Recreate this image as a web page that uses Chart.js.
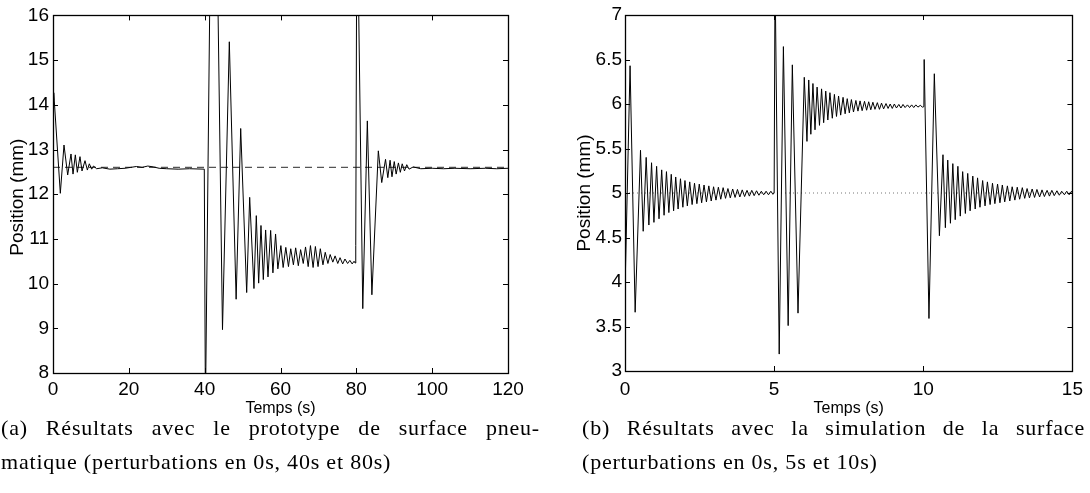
<!DOCTYPE html>
<html>
<head>
<meta charset="utf-8">
<script src="https://cdn.jsdelivr.net/npm/chart.js@4.4.1/dist/chart.umd.min.js"></script>
<style>
  html, body { margin: 0; padding: 0; background: #fff; }
  body { width: 1090px; height: 493px; position: relative; overflow: hidden; }
  .panel { position: absolute; top: 0; }
  .cap { position: absolute; font-family: "Liberation Serif", serif; font-size: 22px; letter-spacing: 0.8px; color: #000; white-space: nowrap; line-height: 34px; }
  .just { text-align: justify; text-align-last: justify; white-space: normal; }
</style>
</head>
<body>
<div class="panel" style="left:0"><canvas id="exp-canvas" width="545" height="420"></canvas></div>
<div class="panel" style="left:560px"><canvas id="sim-canvas" width="530" height="420"></canvas></div>

<div class="cap just" style="left:1px; top:411px; width:539px">(a) Résultats avec le prototype de surface pneu-</div>
<div class="cap" style="left:1px; top:445px">matique (perturbations en 0s, 40s et 80s)</div>
<div class="cap just" style="left:582px; top:411px; width:503px">(b) Résultats avec la simulation de la surface</div>
<div class="cap" style="left:582px; top:445px">(perturbations en 0s, 5s et 10s)</div>

<script>
// (a) prototype: time (s) and position (mm)
let expTime = [0, 0.2, 1.93, 2.9, 3.87, 4.75, 5.28, 5.89, 6.42, 7.12, 7.65, 8.44, 9.06, 9.58, 10.2, 10.7,
    11.5, 13, 15, 17, 19, 20.5, 22, 23.5, 25, 26.5, 28, 30, 33, 36, 39.9,
    40.2, 41.5, 43.3, 44.7, 46.5, 48.3, 49.5, 51.08, 51.87, 53.0, 53.62, 54.24, 54.85, 55.47, 56.08, 56.7,
    57.4, 58.0, 58.7, 59.3, 60.1, 60.7, 61.4, 62.1,
    62.7, 63.4, 64.0, 64.7, 65.3, 66.0, 66.6, 67.3, 67.9, 68.6, 69.2, 69.9, 70.5, 71.2, 71.8, 72.5,
    73.1, 73.8, 74.4, 75.1, 75.7, 76.4, 77.0, 77.7, 78.3, 78.9, 79.4, 79.7,
    79.85, 80.1, 80.4, 81.7, 82.9, 84.1, 85.8, 86.7, 87.7, 88.3, 88.9, 89.4, 90.0, 90.5, 91.1, 91.6,
    92.1, 92.7, 93.3, 93.9, 95, 97, 100, 103, 106, 110, 114, 117, 120];
let expPos = [14.1, 14.27, 12.02, 13.1, 12.43, 12.9, 12.45, 12.88, 12.49, 12.84, 12.52, 12.75, 12.54, 12.68, 12.56, 12.63,
    12.57, 12.59, 12.56, 12.57, 12.58, 12.6, 12.62, 12.6, 12.63, 12.61, 12.58, 12.57, 12.56, 12.57, 12.56,
    7.2, 17.5, 17.5, 8.97, 15.41, 9.65, 13.47, 9.80, 11.93, 9.89, 11.52, 10.01, 11.30, 10.09, 11.20, 10.15,
    11.19, 10.24, 11.11, 10.33, 10.85, 10.36, 10.81, 10.38,
    10.78, 10.42, 10.80, 10.40, 10.76, 10.45, 10.82, 10.38, 10.85, 10.36, 10.83, 10.38, 10.78, 10.42, 10.70, 10.45,
    10.65, 10.48, 10.62, 10.45, 10.58, 10.44, 10.55, 10.45, 10.52, 10.44, 10.50, 10.46,
    10.85, 17.5, 17.5, 9.44, 13.64, 9.75, 12.97, 12.26, 12.78, 12.37, 12.76, 12.39, 12.73, 12.45, 12.70, 12.49,
    12.68, 12.52, 12.66, 12.56, 12.61, 12.57, 12.58, 12.57, 12.58, 12.57, 12.58, 12.57, 12.58];
let expRef = 12.6;
let expTicksX = [0, 20, 40, 60, 80, 100, 120];

// (b) simulation: time (s) and position (mm)
let simTime = [0, 0.17, 0.34,
    0.52, 0.61, 0.71, 0.80, 0.89, 0.97, 1.06, 1.14, 1.23, 1.31, 1.39, 1.47, 1.55, 1.63, 1.70, 1.78,
    1.86, 1.94, 2.01, 2.09, 2.17, 2.25, 2.33, 2.41, 2.49, 2.57, 2.65, 2.73, 2.81, 2.89, 2.97, 3.05,
    3.13, 3.21, 3.29, 3.37, 3.45, 3.53, 3.61, 3.69, 3.77, 3.85, 3.93, 4.01, 4.09, 4.17, 4.25, 4.33,
    4.41, 4.49, 4.57, 4.65, 4.73, 4.81, 4.89, 4.96, 5.0,
    5.03, 5.17, 5.31, 5.47, 5.61, 5.80, 6.01, 6.10,
    6.16, 6.23, 6.30, 6.37, 6.44, 6.52, 6.59, 6.66, 6.73, 6.80, 6.87, 6.95, 7.02, 7.09, 7.16, 7.23,
    7.31, 7.38, 7.45, 7.52, 7.59, 7.66, 7.74, 7.81, 7.88, 7.95, 8.03, 8.10, 8.17, 8.24, 8.31, 8.38,
    8.46, 8.53, 8.60, 8.67, 8.75, 8.82, 8.89, 8.96, 9.03, 9.10, 9.18, 9.25, 9.32, 9.39, 9.47, 9.54,
    9.61, 9.68, 9.75, 9.82, 9.90, 9.97, 10.02,
    10.03, 10.19, 10.37, 10.54, 10.66, 10.74, 10.82, 10.91, 10.99, 11.07, 11.16, 11.24, 11.32, 11.41,
    11.49, 11.57, 11.66, 11.74, 11.82, 11.90, 11.99, 12.07, 12.15, 12.24, 12.32, 12.40, 12.49, 12.57,
    12.65, 12.73, 12.82, 12.90, 12.98, 13.07, 13.15, 13.23, 13.32, 13.40, 13.48, 13.56, 13.65, 13.73,
    13.81, 13.90, 13.98, 14.06, 14.15, 14.23, 14.31, 14.39, 14.48, 14.56, 14.64, 14.73, 14.81, 14.89,
    14.97, 15.0];
let simPos = [3.9, 6.43, 3.66,
    5.48, 4.57, 5.40, 4.64, 5.34, 4.67, 5.30, 4.71, 5.26, 4.75, 5.24, 4.78, 5.21, 4.80, 5.18, 4.82,
    5.16, 4.84, 5.14, 4.855, 5.125, 4.87, 5.11, 4.88, 5.10, 4.89, 5.09, 4.90, 5.08, 4.91, 5.07, 4.92,
    5.065, 4.93, 5.06, 4.94, 5.05, 4.945, 5.045, 4.95, 5.04, 4.955, 5.035, 4.96, 5.03, 4.965, 5.03, 4.97,
    5.025, 4.975, 5.02, 4.98, 5.02, 4.98, 5.02, 4.985, 5.0,
    7.5, 3.19, 6.645, 3.51, 6.44, 3.65, 6.30, 5.58,
    6.27, 5.66, 6.23, 5.71, 6.19, 5.76, 6.17, 5.79, 6.145, 5.82, 6.127, 5.84, 6.108, 5.86, 6.09, 5.875,
    6.075, 5.89, 6.06, 5.90, 6.05, 5.91, 6.04, 5.92, 6.035, 5.925, 6.03, 5.93, 6.025, 5.935, 6.02, 5.94,
    6.015, 5.94, 6.01, 5.945, 6.005, 5.95, 6.0, 5.95, 6.0, 5.955, 5.995, 5.955, 5.995, 5.96, 5.99, 5.96,
    5.99, 5.96, 5.99, 5.965, 5.985, 5.965, 5.97,
    6.50, 3.59, 6.34, 4.52, 5.43, 4.61, 5.37, 4.66, 5.33, 4.70, 5.30, 4.74, 5.24, 4.77,
    5.22, 4.80, 5.19, 4.82, 5.17, 4.84, 5.14, 4.855, 5.125, 4.87, 5.11, 4.88, 5.10, 4.89,
    5.09, 4.90, 5.08, 4.91, 5.07, 4.92, 5.065, 4.93, 5.06, 4.94, 5.05, 4.945, 5.045, 4.95,
    5.04, 4.955, 5.035, 4.96, 5.03, 4.965, 5.03, 4.97, 5.025, 4.975, 5.02, 4.98, 5.02, 4.98,
    5.02, 5.0];
let simRef = 5;

const tickFont = { family: 'Liberation Sans', size: 19 };

// MATLAB-like frame: box, inward ticks on four sides, axis titles
const frame = {
    id: 'frame',
    afterDraw(chart, args, opts) {
        const ctx = chart.ctx;
        const a = chart.chartArea;
        const sx = chart.scales.x, sy = chart.scales.y;
        ctx.save();
        ctx.strokeStyle = '#000';
        ctx.lineWidth = 1;
        ctx.beginPath();
        sx.ticks.forEach(t => {
            let px = Math.round(sx.getPixelForValue(t.value)) + 0.5;
            ctx.moveTo(px, a.bottom); ctx.lineTo(px, a.bottom - 5);
            ctx.moveTo(px, a.top); ctx.lineTo(px, a.top + 5);
        });
        sy.ticks.forEach(t => {
            let py = Math.round(sy.getPixelForValue(t.value)) + 0.5;
            ctx.moveTo(a.left, py); ctx.lineTo(a.left + 5, py);
            ctx.moveTo(a.right, py); ctx.lineTo(a.right - 5, py);
        });
        ctx.stroke();
        ctx.lineWidth = 1.3;
        ctx.strokeRect(Math.round(a.left) + 0.5, Math.round(a.top) + 0.5,
            Math.round(a.right - a.left), Math.round(a.bottom - a.top));

        ctx.fillStyle = '#000';
        ctx.textAlign = 'center';
        ctx.textBaseline = 'middle';
        ctx.font = '16px "Liberation Sans"';
        ctx.fillText(opts.xTitle, (a.left + a.right) / 2, a.bottom + opts.xGap);
        ctx.font = '19px "Liberation Sans"';
        ctx.translate(a.left - opts.yGap, (a.top + a.bottom) / 2 + opts.yShift);
        ctx.rotate(-Math.PI / 2);
        ctx.fillText(opts.yTitle, 0, 0);
        ctx.restore();
    }
};

const plainLabel = v => String(+v);

let expCtx = document.getElementById('exp-canvas').getContext('2d');
let simCtx = document.getElementById('sim-canvas').getContext('2d');

let expChart = new Chart(expCtx, {
    type: 'line',
    data: {
        datasets: [{
            data: expTime.map((t, i) => ({ x: t, y: expPos[i] })),
            borderColor: '#000',
            borderWidth: 1,
            pointRadius: 0,
            tension: 0
        }, {
            data: [{ x: expTicksX[0], y: expRef }, { x: expTicksX[expTicksX.length - 1], y: expRef }],
            borderColor: '#555',
            borderWidth: 1.3,
            borderDash: [7, 5],
            pointRadius: 0
        }]
    },
    options: {
        responsive: false,
        animation: false,
        events: [],
        layout: { padding: { left: 0, right: 37, top: 14, bottom: 0 } },
        plugins: {
            legend: { display: false },
            tooltip: { enabled: false },
            frame: { xTitle: 'Temps (s)', yTitle: 'Position (mm)', xGap: 36, yGap: 35, yShift: 3 }
        },
        scales: {
            x: {
                type: 'linear', min: 0, max: 120,
                afterBuildTicks: s => { s.ticks = expTicksX.map(v => ({ value: v })); },
                afterFit: s => { s.height = 47; },
                grid: { display: false, drawTicks: false },
                border: { display: false },
                ticks: { font: tickFont, color: '#000', padding: 5, maxRotation: 0, autoSkip: false }
            },
            y: {
                min: 8, max: 16,
                afterFit: s => { s.width = 53; },
                grid: { display: false, drawTicks: false },
                border: { display: false },
                ticks: { stepSize: 1, font: tickFont, color: '#000', padding: 4 }
            }
        }
    },
    plugins: [frame]
});

let simChart = new Chart(simCtx, {
    type: 'line',
    data: {
        datasets: [{
            data: simTime.map((t, i) => ({ x: t, y: simPos[i] })),
            borderColor: '#000',
            borderWidth: 1,
            pointRadius: 0,
            tension: 0
        }, {
            data: [{ x: 0, y: simRef }, { x: 15, y: simRef }],
            borderColor: '#777',
            borderWidth: 1,
            borderDash: [1, 3],
            pointRadius: 0
        }]
    },
    options: {
        responsive: false,
        animation: false,
        events: [],
        layout: { padding: { left: 0, right: 15, top: 15, bottom: 0 } },
        plugins: {
            legend: { display: false },
            tooltip: { enabled: false },
            frame: { xTitle: 'Temps (s)', yTitle: 'Position (mm)', xGap: 38, yGap: 40, yShift: 0 }
        },
        scales: {
            x: {
                type: 'linear', min: 0, max: 15,
                afterFit: s => { s.height = 49; },
                grid: { display: false, drawTicks: false },
                border: { display: false },
                ticks: { stepSize: 5, font: tickFont, color: '#000', padding: 7, maxRotation: 0, autoSkip: false, callback: plainLabel }
            },
            y: {
                min: 3, max: 7,
                afterFit: s => { s.width = 65; },
                grid: { display: false, drawTicks: false },
                border: { display: false },
                ticks: { stepSize: 0.5, font: tickFont, color: '#000', padding: 3, callback: plainLabel }
            }
        }
    },
    plugins: [frame]
});
</script>
</body>
</html>
